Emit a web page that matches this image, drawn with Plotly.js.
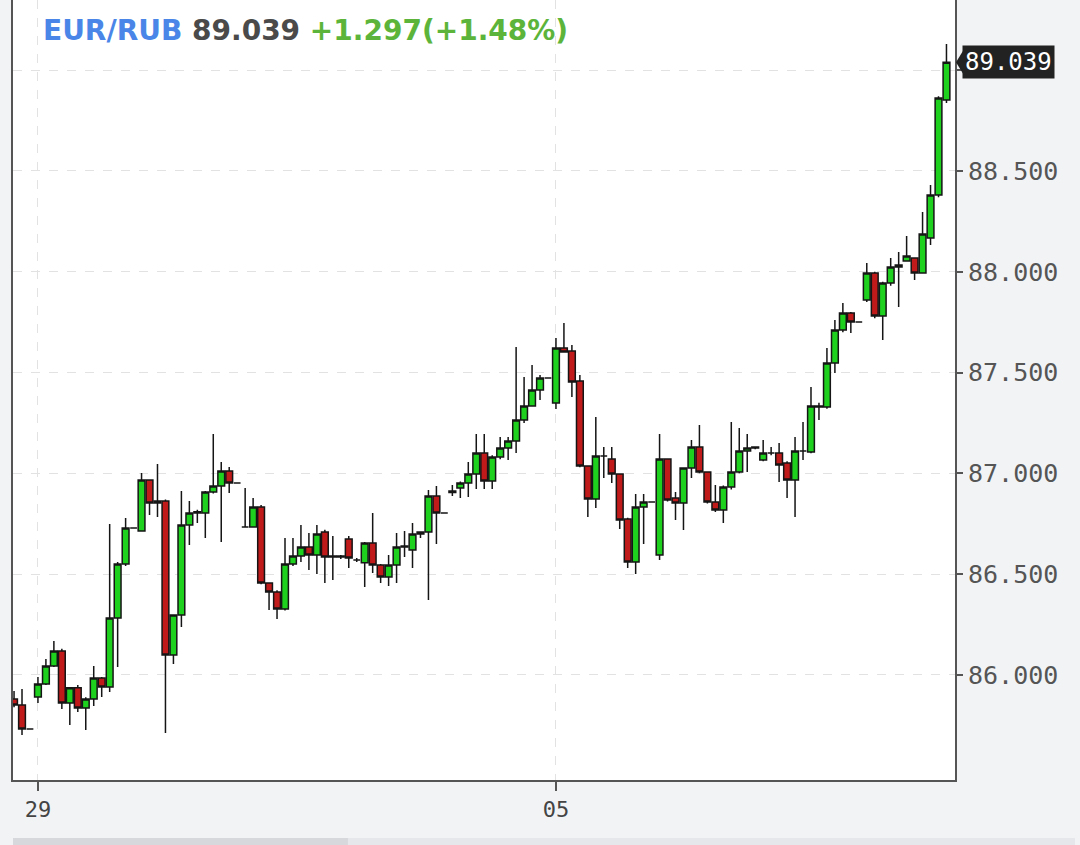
<!DOCTYPE html>
<html>
<head>
<meta charset="utf-8">
<script src="https://cdn.plot.ly/plotly-3.0.1.min.js"></script>
<style>
  html, body { margin: 0; padding: 0; background: #f2f3f5; }
  #chart { width: 1080px; height: 845px; }
</style>
</head>
<body>
<div id="chart"></div>
<script>
// EUR/RUB candles (oldest -> newest)
const openP = [
  85.881, 85.851, 85.732, 85.891, 85.955, 86.045, 86.119, 85.861, 85.936, 85.836,
  85.881, 85.985, 85.940, 86.283, 86.551, 86.729, 86.714, 86.967, 86.853, 86.863,
  86.099, 86.298, 86.744, 86.804, 86.804, 86.908, 86.937, 87.012, 86.952, 86.734,
  86.734, 86.833, 86.456, 86.412, 86.327, 86.551, 86.590, 86.635, 86.595, 86.709,
  86.585, 86.590, 86.675, 86.570, 86.556, 86.655, 86.546, 86.486, 86.546, 86.635,
  86.620, 86.699, 86.709, 86.888, 86.804, 86.905, 86.928, 86.952, 86.997, 87.101,
  86.962, 87.081, 87.126, 87.161, 87.265, 87.334, 87.414, 87.473, 87.349, 87.622,
  87.607, 87.458, 87.037, 86.873, 87.086, 87.071, 86.997, 86.774, 86.560, 86.833,
  86.858, 86.595, 87.071, 86.878, 86.853, 87.027, 87.131, 87.007, 86.858, 86.818,
  86.932, 87.007, 87.111, 87.126, 87.066, 87.101, 87.101, 87.052, 86.967, 87.111,
  87.106, 87.334, 87.329, 87.548, 87.711, 87.796, 87.751, 87.860, 87.994, 87.781,
  87.944, 88.024, 88.053, 88.068, 87.994, 88.168, 88.381, 88.852
];
const highP = [
  85.920, 85.931, 85.735, 85.990, 86.079, 86.169, 86.130, 85.940, 85.950, 85.890,
  86.045, 85.990, 86.749, 86.560, 86.779, 86.732, 87.002, 86.970, 87.047, 86.870,
  86.300, 86.913, 86.863, 86.820, 86.913, 87.195, 87.056, 87.032, 86.955, 86.928,
  86.878, 86.843, 86.460, 86.420, 86.680, 86.680, 86.744, 86.704, 86.744, 86.720,
  86.689, 86.595, 86.689, 86.580, 86.660, 86.804, 86.550, 86.595, 86.704, 86.714,
  86.754, 86.712, 86.918, 86.937, 86.806, 86.942, 86.960, 87.056, 87.195, 87.195,
  87.090, 87.180, 87.180, 87.627, 87.478, 87.538, 87.488, 87.476, 87.672, 87.746,
  87.637, 87.488, 87.040, 87.280, 87.131, 87.131, 87.000, 86.780, 86.898, 86.898,
  86.860, 87.195, 87.075, 86.908, 87.030, 87.166, 87.240, 87.010, 86.942, 86.940,
  87.255, 87.225, 87.195, 87.135, 87.166, 87.131, 87.151, 87.060, 87.180, 87.255,
  87.428, 87.350, 87.622, 87.761, 87.845, 87.800, 87.753, 88.044, 88.000, 87.950,
  88.068, 88.098, 88.177, 88.070, 88.296, 88.430, 88.870, 89.130
];
const lowP = [
  85.840, 85.702, 85.728, 85.861, 85.950, 86.040, 85.831, 85.752, 85.816, 85.727,
  85.846, 85.891, 85.916, 86.040, 86.540, 86.726, 86.710, 86.794, 86.784, 85.712,
  86.055, 86.238, 86.645, 86.754, 86.680, 86.900, 86.660, 86.903, 86.950, 86.730,
  86.730, 86.450, 86.322, 86.278, 86.320, 86.540, 86.560, 86.521, 86.501, 86.456,
  86.471, 86.575, 86.531, 86.560, 86.436, 86.506, 86.456, 86.441, 86.456, 86.585,
  86.531, 86.680, 86.372, 86.650, 86.802, 86.888, 86.878, 86.883, 86.923, 86.923,
  86.923, 87.070, 87.066, 87.101, 87.250, 87.330, 87.364, 87.470, 87.319, 87.600,
  87.379, 87.030, 86.784, 86.828, 86.977, 86.952, 86.724, 86.531, 86.501, 86.650,
  86.856, 86.570, 86.860, 86.769, 86.719, 86.977, 87.000, 86.850, 86.808, 86.754,
  86.920, 87.000, 87.007, 87.120, 87.060, 87.090, 86.957, 86.878, 86.784, 87.066,
  87.100, 87.265, 87.320, 87.498, 87.700, 87.696, 87.749, 87.850, 87.770, 87.662,
  87.930, 87.825, 88.050, 87.959, 87.990, 88.133, 88.370, 88.837
];
const closeP = [
  85.851, 85.732, 85.732, 85.955, 86.045, 86.119, 85.861, 85.936, 85.836, 85.881,
  85.985, 85.940, 86.283, 86.551, 86.729, 86.729, 86.967, 86.853, 86.863, 86.099,
  86.298, 86.744, 86.804, 86.809, 86.908, 86.937, 87.012, 86.952, 86.952, 86.734,
  86.833, 86.456, 86.412, 86.327, 86.551, 86.590, 86.635, 86.595, 86.699, 86.585,
  86.590, 86.585, 86.580, 86.570, 86.655, 86.546, 86.486, 86.546, 86.635, 86.640,
  86.699, 86.709, 86.888, 86.804, 86.804, 86.913, 86.952, 86.997, 87.101, 86.962,
  87.081, 87.126, 87.161, 87.265, 87.334, 87.414, 87.473, 87.473, 87.622, 87.602,
  87.453, 87.037, 86.873, 87.086, 87.086, 86.997, 86.769, 86.560, 86.833, 86.858,
  86.858, 87.071, 86.868, 86.853, 87.027, 87.131, 87.007, 86.858, 86.818, 86.932,
  87.007, 87.111, 87.126, 87.131, 87.101, 87.101, 87.042, 86.967, 87.111, 87.111,
  87.334, 87.329, 87.548, 87.711, 87.796, 87.751, 87.751, 87.994, 87.781, 87.944,
  88.024, 88.034, 88.078, 87.994, 88.187, 88.381, 88.862, 89.039
];
const candleIdx = openP.map((_, i) => i);

const xTickIdx = [3, 68];
const xTickLabels = ['29', '05'];
const yTickVals = [86.0, 86.5, 87.0, 87.5, 88.0, 88.5, 89.0];
const yTickLabels = ['86.000', '86.500', '87.000', '87.500', '88.000', '88.500', ''];

const symbol = 'EUR/RUB';
const changeText = '+1.297(+1.48%)';
const lastClose = closeP[closeP.length - 1];

const trace = {
  type: 'candlestick',
  x: candleIdx,
  open: openP,
  high: highP,
  low: lowP,
  close: closeP,
  whiskerwidth: 0,
  increasing: { fillcolor: '#1fd11f', line: { color: '#151515', width: 1.5 } },
  decreasing: { fillcolor: '#c01a1a', line: { color: '#151515', width: 1.5 } },
  hoverinfo: 'skip',
  showlegend: false
};

const gridC = '#e2e2e2';
const layout = {
  width: 1080,
  height: 845,
  autosize: false,
  paper_bgcolor: '#f2f3f5',
  plot_bgcolor: '#ffffff',
  margin: { l: 13, r: 125, t: 0, b: 65, pad: 0 },
  boxgap: 0.15,
  boxgroupgap: 0,
  hovermode: false,
  showlegend: false,
  title: {
    text: '<b><span style="color:#4a86e8">' + symbol + '</span> ' +
          '<span style="color:#4a4a4a">' + lastClose.toFixed(3) + '</span> ' +
          '<span style="color:#5cb53a">' + changeText + '</span></b>',
    xref: 'container', x: 43 / 1080, xanchor: 'left',
    yref: 'container', y: 1 - 30 / 845, yanchor: 'middle',
    font: { family: 'DejaVu Sans', size: 28 }
  },
  xaxis: {
    type: 'linear',
    range: [-0.13, 118.07],
    rangeslider: { visible: false },
    tickmode: 'array',
    tickvals: xTickIdx,
    ticktext: xTickLabels,
    ticks: 'outside', ticklen: 9, tickwidth: 2, tickcolor: '#555',
    showline: true, linecolor: '#555', linewidth: 2, mirror: false,
    showgrid: true, gridcolor: gridC, griddash: 'dash', gridwidth: 1,
    zeroline: false,
    tickfont: { family: 'DejaVu Sans Mono', size: 22, color: '#444' },
    fixedrange: true
  },
  yaxis: {
    side: 'right',
    range: [85.479, 89.348],
    tickmode: 'array',
    tickvals: yTickVals,
    ticktext: yTickLabels,
    ticks: 'outside', ticklen: 6, tickwidth: 2, tickcolor: '#555',
    showline: true, linecolor: '#555', linewidth: 2, mirror: true,
    showgrid: true, gridcolor: gridC, griddash: 'dash', gridwidth: 1,
    zeroline: false,
    tickfont: { family: 'DejaVu Sans Mono', size: 25, color: '#555' },
    fixedrange: true
  },
  annotations: [{
    xref: 'paper', x: 1, xanchor: 'left', xshift: 7,
    yref: 'y', y: lastClose, yanchor: 'middle',
    text: lastClose.toFixed(3),
    showarrow: false,
    bgcolor: '#222222',
    borderpad: 2,
    font: { family: 'DejaVu Sans Mono', size: 24, color: '#ffffff' }
  }],
  shapes: [
    {
      type: 'path', xref: 'paper', yref: 'y',
      xsizemode: 'pixel', ysizemode: 'pixel',
      xanchor: 1, yanchor: lastClose,
      path: 'M 1 0 L 9 13 L 9 -13 Z',
      fillcolor: '#222222', line: { width: 0 }
    },
    {
      type: 'rect', xref: 'paper', yref: 'paper',
      x0: 0, x1: 1.1274, y0: -0.0833, y1: -0.0744,
      fillcolor: '#e6e7ea', line: { width: 0 }
    },
    {
      type: 'rect', xref: 'paper', yref: 'paper',
      x0: 0, x1: 0.3556, y0: -0.0833, y1: -0.0744,
      fillcolor: '#d7d8db', line: { width: 0 }
    }
  ]
};

Plotly.newPlot('chart', [trace], layout, { displayModeBar: false, staticPlot: true });
</script>
</body>
</html>
